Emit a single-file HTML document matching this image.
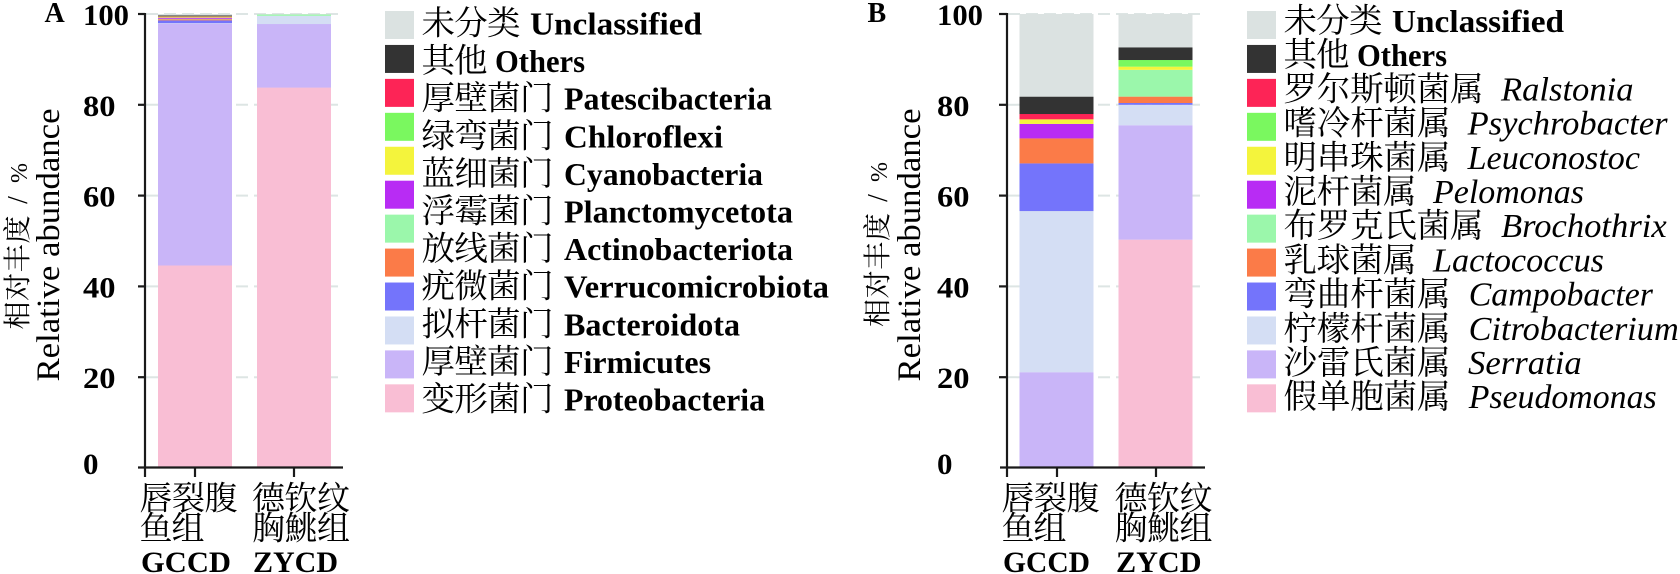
<!DOCTYPE html>
<html>
<head>
<meta charset="utf-8">
<style>
  html,body{margin:0;padding:0;background:#fff;}
  svg{display:block;}
</style>
</head>
<body>
<svg width="1680" height="574" viewBox="0 0 1680 574" xmlns="http://www.w3.org/2000/svg">
<defs></defs>
<rect x="0" y="0" width="1680" height="574" fill="#fff"/>

<!-- ================= PANEL A ================= -->
<text x="44.5" y="22" font-family="Liberation Serif, Times New Roman, Tinos, DejaVu Serif, Noto Serif, serif" font-weight="bold" font-size="28" fill="#000">A</text>

<!-- gridlines A -->
<g stroke="#dde5e4" stroke-width="2" stroke-dasharray="12 6">
  <line x1="146" y1="377.2" x2="342" y2="377.2"/>
  <line x1="146" y1="286.4" x2="342" y2="286.4"/>
  <line x1="146" y1="195.6" x2="342" y2="195.6"/>
  <line x1="146" y1="104.8" x2="342" y2="104.8"/>
  <line x1="146" y1="14" x2="342" y2="14"/>
</g>

<!-- bar A1 -->
<g>
  <rect x="158" y="265.5" width="74" height="202.5" fill="#f9bed4"/>
  <rect x="158" y="23.55" width="74" height="241.95" fill="#c9b5f8"/>
  <rect x="158" y="23.1" width="74" height="0.6" fill="#d4def4"/>
  <rect x="158" y="20.36" width="74" height="2.8" fill="#7474fb"/>
  <rect x="158" y="19.2" width="74" height="1.2" fill="#fb7b48"/>
  <rect x="158" y="18.8" width="74" height="0.5" fill="#9bf7ab"/>
  <rect x="158" y="17.6" width="74" height="1.2" fill="#b82cf4"/>
  <rect x="158" y="16.95" width="74" height="0.7" fill="#f4f43c"/>
  <rect x="158" y="16.5" width="74" height="0.5" fill="#7af85f"/>
  <rect x="158" y="16.05" width="74" height="0.5" fill="#fd2456"/>
  <rect x="158" y="15.4" width="74" height="0.7" fill="#333333"/>
  <rect x="158" y="14" width="74" height="1.4" fill="#dbe2e1"/>
</g>
<!-- bar A2 -->
<g>
  <rect x="257" y="87.55" width="74" height="380.45" fill="#f9bed4"/>
  <rect x="257" y="24" width="74" height="63.6" fill="#c9b5f8"/>
  <rect x="257" y="15.8" width="74" height="8.25" fill="#d4def4"/>
  <rect x="257" y="14.45" width="74" height="1.4" fill="#9bf7ab"/>
  <rect x="257" y="14" width="74" height="0.5" fill="#dbe2e1"/>
</g>

<!-- axes A -->
<g stroke="#1a1a1a" stroke-width="2.2" fill="none">
  <line x1="145" y1="13" x2="145" y2="477"/>
  <line x1="138" y1="467.5" x2="343" y2="467.5"/>
  <line x1="138" y1="14" x2="145" y2="14"/>
  <line x1="138" y1="104.8" x2="145" y2="104.8"/>
  <line x1="138" y1="195.6" x2="145" y2="195.6"/>
  <line x1="138" y1="286.4" x2="145" y2="286.4"/>
  <line x1="138" y1="377.2" x2="145" y2="377.2"/>
  <line x1="195" y1="467.5" x2="195" y2="477"/>
  <line x1="294" y1="467.5" x2="294" y2="477"/>
</g>

<!-- tick labels A -->
<g font-family="Liberation Serif, Times New Roman, Tinos, DejaVu Serif, Noto Serif, serif" font-weight="bold" font-size="30" fill="#000">
<text x="83" y="25" textLength="46" lengthAdjust="spacingAndGlyphs">100</text>
<text x="83" y="116" textLength="32.5" lengthAdjust="spacingAndGlyphs">80</text>
<text x="83" y="206.6" textLength="32.5" lengthAdjust="spacingAndGlyphs">60</text>
<text x="83" y="297.4" textLength="32.5" lengthAdjust="spacingAndGlyphs">40</text>
<text x="83" y="388.2" textLength="32.5" lengthAdjust="spacingAndGlyphs">20</text>
<text x="83" y="474" textLength="15.5" lengthAdjust="spacingAndGlyphs">0</text>
</g>

<!-- y title A -->
<text transform="translate(59,245) rotate(-90)" text-anchor="middle" textLength="273" lengthAdjust="spacingAndGlyphs" font-family="Liberation Serif, Times New Roman, Tinos, DejaVu Serif, Noto Serif, serif" font-size="33" fill="#000">Relative abundance</text>
<g font-family="Liberation Serif, Noto Serif CJK SC, Noto Serif CJK JP, Source Han Serif SC, Noto Sans CJK SC, serif" font-size="28" fill="#000">
<text transform="translate(27,272.5) rotate(-90)" text-anchor="middle" textLength="114" lengthAdjust="spacing">相对丰度</text>
<text transform="translate(27,200) rotate(-90)" text-anchor="middle">/</text>
<text transform="translate(27,173) rotate(-90)" text-anchor="middle" font-size="24">%</text>
</g>

<!-- x labels A -->
<g font-family="Liberation Serif, Noto Serif CJK SC, Noto Serif CJK JP, Source Han Serif SC, Noto Sans CJK SC, serif" font-size="33" fill="#000">
<text x="139.5" y="509.5" textLength="98" lengthAdjust="spacing">唇裂腹</text>
<text x="252" y="509.5" textLength="98" lengthAdjust="spacing">德钦纹</text>
<text x="139.5" y="539.5" textLength="65" lengthAdjust="spacing">鱼组</text>
<text x="252" y="539.5" textLength="98" lengthAdjust="spacing">胸鮡组</text>
</g>
<g font-family="Liberation Serif, Times New Roman, Tinos, DejaVu Serif, Noto Serif, serif" font-weight="bold" font-size="30" fill="#000">
<text x="141" y="572" textLength="90" lengthAdjust="spacingAndGlyphs">GCCD</text>
<text x="253" y="572" textLength="85" lengthAdjust="spacingAndGlyphs">ZYCD</text>
</g>

<!-- legend A squares -->
<g>
  <rect x="385" y="11" width="29" height="28" fill="#dbe2e1"/>
  <rect x="385" y="44.94" width="29" height="28" fill="#333333"/>
  <rect x="385" y="78.88" width="29" height="28" fill="#fd2456"/>
  <rect x="385" y="112.82" width="29" height="28" fill="#7af85f"/>
  <rect x="385" y="146.76" width="29" height="28" fill="#f4f43c"/>
  <rect x="385" y="180.7" width="29" height="28" fill="#b82cf4"/>
  <rect x="385" y="214.64" width="29" height="28" fill="#9bf7ab"/>
  <rect x="385" y="248.58" width="29" height="28" fill="#fb7b48"/>
  <rect x="385" y="282.52" width="29" height="28" fill="#7474fb"/>
  <rect x="385" y="316.46" width="29" height="28" fill="#d4def4"/>
  <rect x="385" y="350.4" width="29" height="28" fill="#c9b5f8"/>
  <rect x="385" y="384.34" width="29" height="28" fill="#f9bed4"/>
</g>
<!-- legend A text -->
<g font-family="Liberation Serif, Noto Serif CJK SC, Noto Serif CJK JP, Source Han Serif SC, Noto Sans CJK SC, serif" font-size="33.5" fill="#000">
  <text x="421.5" y="34.5" textLength="99" lengthAdjust="spacing">未分类</text>
  <text x="421.5" y="72.1" textLength="66" lengthAdjust="spacing">其他</text>
  <text x="421.5" y="109.7" textLength="132" lengthAdjust="spacing">厚壁菌门</text>
  <text x="421.5" y="147.3" textLength="132" lengthAdjust="spacing">绿弯菌门</text>
  <text x="421.5" y="184.9" textLength="132" lengthAdjust="spacing">蓝细菌门</text>
  <text x="421.5" y="222.5" textLength="132" lengthAdjust="spacing">浮霉菌门</text>
  <text x="421.5" y="260.1" textLength="132" lengthAdjust="spacing">放线菌门</text>
  <text x="421.5" y="297.7" textLength="132" lengthAdjust="spacing">疣微菌门</text>
  <text x="421.5" y="335.3" textLength="132" lengthAdjust="spacing">拟杆菌门</text>
  <text x="421.5" y="372.9" textLength="132" lengthAdjust="spacing">厚壁菌门</text>
  <text x="421.5" y="410.5" textLength="132" lengthAdjust="spacing">变形菌门</text>
</g>
<g font-family="Liberation Serif, Times New Roman, Tinos, DejaVu Serif, Noto Serif, serif" font-weight="bold" font-size="32" fill="#000">
  <text x="530" y="34.5" textLength="172" lengthAdjust="spacingAndGlyphs">Unclassified</text>
  <text x="495" y="72.1" textLength="90" lengthAdjust="spacingAndGlyphs">Others</text>
  <text x="564" y="109.7" textLength="208" lengthAdjust="spacingAndGlyphs">Patescibacteria</text>
  <text x="564" y="147.3" textLength="159" lengthAdjust="spacingAndGlyphs">Chloroflexi</text>
  <text x="564" y="184.9" textLength="199" lengthAdjust="spacingAndGlyphs">Cyanobacteria</text>
  <text x="564" y="222.5" textLength="229" lengthAdjust="spacingAndGlyphs">Planctomycetota</text>
  <text x="564" y="260.1" textLength="229" lengthAdjust="spacingAndGlyphs">Actinobacteriota</text>
  <text x="564" y="297.7" textLength="265" lengthAdjust="spacingAndGlyphs">Verrucomicrobiota</text>
  <text x="564" y="335.3" textLength="176" lengthAdjust="spacingAndGlyphs">Bacteroidota</text>
  <text x="564" y="372.9" textLength="147" lengthAdjust="spacingAndGlyphs">Firmicutes</text>
  <text x="564" y="410.5" textLength="201" lengthAdjust="spacingAndGlyphs">Proteobacteria</text>
</g>

<!-- ================= PANEL B ================= -->
<text x="867.5" y="22" font-family="Liberation Serif, Times New Roman, Tinos, DejaVu Serif, Noto Serif, serif" font-weight="bold" font-size="28" fill="#000">B</text>

<!-- gridlines B -->
<g stroke="#dde5e4" stroke-width="2" stroke-dasharray="12 6">
  <line x1="1008" y1="377.2" x2="1204" y2="377.2"/>
  <line x1="1008" y1="286.4" x2="1204" y2="286.4"/>
  <line x1="1008" y1="195.6" x2="1204" y2="195.6"/>
  <line x1="1008" y1="104.8" x2="1204" y2="104.8"/>
  <line x1="1008" y1="14" x2="1204" y2="14"/>
</g>

<!-- bar B1 -->
<g>
  <rect x="1019.5" y="466.64" width="74" height="1.36" fill="#f9bed4"/>
  <rect x="1019.5" y="372.2" width="74" height="94.5" fill="#c9b5f8"/>
  <rect x="1019.5" y="211.04" width="74" height="161.2" fill="#d4def4"/>
  <rect x="1019.5" y="163.37" width="74" height="47.7" fill="#7474fb"/>
  <rect x="1019.5" y="138.4" width="74" height="25" fill="#fb7b48"/>
  <rect x="1019.5" y="123.87" width="74" height="14.55" fill="#b82cf4"/>
  <rect x="1019.5" y="119.33" width="74" height="4.56" fill="#f4f43c"/>
  <rect x="1019.5" y="114" width="74" height="5.35" fill="#fd2456"/>
  <rect x="1019.5" y="96.63" width="74" height="17.4" fill="#333333"/>
  <rect x="1019.5" y="14" width="74" height="82.65" fill="#dbe2e1"/>
</g>
<!-- bar B2 -->
<g>
  <rect x="1118.5" y="239.64" width="74" height="228.36" fill="#f9bed4"/>
  <rect x="1118.5" y="125.23" width="74" height="114.43" fill="#c9b5f8"/>
  <rect x="1118.5" y="104.8" width="74" height="20.45" fill="#d4def4"/>
  <rect x="1118.5" y="102.98" width="74" height="1.84" fill="#7474fb"/>
  <rect x="1118.5" y="96.63" width="74" height="6.37" fill="#fb7b48"/>
  <rect x="1118.5" y="69.84" width="74" height="26.8" fill="#9bf7ab"/>
  <rect x="1118.5" y="66.66" width="74" height="3.2" fill="#f4f43c"/>
  <rect x="1118.5" y="60" width="74" height="6.68" fill="#7af85f"/>
  <rect x="1118.5" y="47.32" width="74" height="12.7" fill="#333333"/>
  <rect x="1118.5" y="14" width="74" height="33.34" fill="#dbe2e1"/>
</g>

<!-- axes B -->
<g stroke="#1a1a1a" stroke-width="2.2" fill="none">
  <line x1="1007" y1="13" x2="1007" y2="477"/>
  <line x1="1000" y1="467.5" x2="1205" y2="467.5"/>
  <line x1="999" y1="14" x2="1007" y2="14"/>
  <line x1="999" y1="104.8" x2="1007" y2="104.8"/>
  <line x1="999" y1="195.6" x2="1007" y2="195.6"/>
  <line x1="999" y1="286.4" x2="1007" y2="286.4"/>
  <line x1="999" y1="377.2" x2="1007" y2="377.2"/>
  <line x1="1057" y1="467.5" x2="1057" y2="477"/>
  <line x1="1156" y1="467.5" x2="1156" y2="477"/>
</g>

<!-- tick labels B -->
<g font-family="Liberation Serif, Times New Roman, Tinos, DejaVu Serif, Noto Serif, serif" font-weight="bold" font-size="30" fill="#000">
<text x="937" y="25" textLength="46" lengthAdjust="spacingAndGlyphs">100</text>
<text x="937" y="116" textLength="32.5" lengthAdjust="spacingAndGlyphs">80</text>
<text x="937" y="206.6" textLength="32.5" lengthAdjust="spacingAndGlyphs">60</text>
<text x="937" y="297.4" textLength="32.5" lengthAdjust="spacingAndGlyphs">40</text>
<text x="937" y="388.2" textLength="32.5" lengthAdjust="spacingAndGlyphs">20</text>
<text x="937" y="474" textLength="15.5" lengthAdjust="spacingAndGlyphs">0</text>
</g>

<!-- y title B -->
<text transform="translate(920,245) rotate(-90)" text-anchor="middle" textLength="273" lengthAdjust="spacingAndGlyphs" font-family="Liberation Serif, Times New Roman, Tinos, DejaVu Serif, Noto Serif, serif" font-size="33" fill="#000">Relative abundance</text>
<g font-family="Liberation Serif, Noto Serif CJK SC, Noto Serif CJK JP, Source Han Serif SC, Noto Sans CJK SC, serif" font-size="28" fill="#000">
<text transform="translate(887,270) rotate(-90)" text-anchor="middle" textLength="114" lengthAdjust="spacing">相对丰度</text>
<text transform="translate(887,198) rotate(-90)" text-anchor="middle">/</text>
<text transform="translate(887,172) rotate(-90)" text-anchor="middle" font-size="24">%</text>
</g>

<!-- x labels B -->
<g font-family="Liberation Serif, Noto Serif CJK SC, Noto Serif CJK JP, Source Han Serif SC, Noto Sans CJK SC, serif" font-size="33" fill="#000">
<text x="1001.5" y="509.5" textLength="98" lengthAdjust="spacing">唇裂腹</text>
<text x="1114.5" y="509.5" textLength="98" lengthAdjust="spacing">德钦纹</text>
<text x="1001.5" y="539.5" textLength="65" lengthAdjust="spacing">鱼组</text>
<text x="1114.5" y="539.5" textLength="98" lengthAdjust="spacing">胸鮡组</text>
</g>
<g font-family="Liberation Serif, Times New Roman, Tinos, DejaVu Serif, Noto Serif, serif" font-weight="bold" font-size="30" fill="#000">
<text x="1003" y="572" textLength="87" lengthAdjust="spacingAndGlyphs">GCCD</text>
<text x="1116" y="572" textLength="85.5" lengthAdjust="spacingAndGlyphs">ZYCD</text>
</g>

<!-- legend B squares -->
<g>
  <rect x="1247" y="11" width="29" height="28" fill="#dbe2e1"/>
  <rect x="1247" y="44.94" width="29" height="28" fill="#333333"/>
  <rect x="1247" y="78.88" width="29" height="28" fill="#fd2456"/>
  <rect x="1247" y="112.82" width="29" height="28" fill="#7af85f"/>
  <rect x="1247" y="146.76" width="29" height="28" fill="#f4f43c"/>
  <rect x="1247" y="180.7" width="29" height="28" fill="#b82cf4"/>
  <rect x="1247" y="214.64" width="29" height="28" fill="#9bf7ab"/>
  <rect x="1247" y="248.58" width="29" height="28" fill="#fb7b48"/>
  <rect x="1247" y="282.52" width="29" height="28" fill="#7474fb"/>
  <rect x="1247" y="316.46" width="29" height="28" fill="#d4def4"/>
  <rect x="1247" y="350.4" width="29" height="28" fill="#c9b5f8"/>
  <rect x="1247" y="384.34" width="29" height="28" fill="#f9bed4"/>
</g>
<!-- legend B text -->
<g font-family="Liberation Serif, Noto Serif CJK SC, Noto Serif CJK JP, Source Han Serif SC, Noto Sans CJK SC, serif" font-size="33.5" fill="#000">
  <text x="1283.5" y="32" textLength="99" lengthAdjust="spacing">未分类</text>
  <text x="1283.5" y="66.2" textLength="66" lengthAdjust="spacing">其他</text>
  <text x="1283.5" y="100.4" textLength="200" lengthAdjust="spacing">罗尔斯顿菌属</text>
  <text x="1283.5" y="134.6" textLength="167" lengthAdjust="spacing">嗜冷杆菌属</text>
  <text x="1283.5" y="168.8" textLength="167" lengthAdjust="spacing">明串珠菌属</text>
  <text x="1283.5" y="203" textLength="133" lengthAdjust="spacing">泥杆菌属</text>
  <text x="1283.5" y="237.2" textLength="200" lengthAdjust="spacing">布罗克氏菌属</text>
  <text x="1283.5" y="271.4" textLength="133" lengthAdjust="spacing">乳球菌属</text>
  <text x="1283.5" y="305.6" textLength="167" lengthAdjust="spacing">弯曲杆菌属</text>
  <text x="1283.5" y="339.8" textLength="167" lengthAdjust="spacing">柠檬杆菌属</text>
  <text x="1283.5" y="374" textLength="167" lengthAdjust="spacing">沙雷氏菌属</text>
  <text x="1283.5" y="408.2" textLength="167" lengthAdjust="spacing">假单胞菌属</text>
</g>
<g font-family="Liberation Serif, Times New Roman, Tinos, DejaVu Serif, Noto Serif, serif" font-weight="bold" font-size="32" fill="#000">
  <text x="1392" y="32" textLength="172" lengthAdjust="spacingAndGlyphs">Unclassified</text>
  <text x="1357" y="66.2" textLength="90" lengthAdjust="spacingAndGlyphs">Others</text>
</g>
<g font-family="Liberation Serif, Times New Roman, Tinos, DejaVu Serif, Noto Serif, serif" font-style="italic" font-size="34" fill="#000">
  <text x="1501" y="100.4" textLength="132.5" lengthAdjust="spacingAndGlyphs">Ralstonia</text>
  <text x="1467.6" y="134.6" textLength="200" lengthAdjust="spacingAndGlyphs">Psychrobacter</text>
  <text x="1467.6" y="168.8" textLength="172.4" lengthAdjust="spacingAndGlyphs">Leuconostoc</text>
  <text x="1433" y="203" textLength="151" lengthAdjust="spacingAndGlyphs">Pelomonas</text>
  <text x="1501" y="237.2" textLength="165.7" lengthAdjust="spacingAndGlyphs">Brochothrix</text>
  <text x="1433" y="271.4" textLength="171" lengthAdjust="spacingAndGlyphs">Lactococcus</text>
  <text x="1468.7" y="305.6" textLength="184.3" lengthAdjust="spacingAndGlyphs">Campobacter</text>
  <text x="1468.7" y="339.8" textLength="210" lengthAdjust="spacingAndGlyphs">Citrobacterium</text>
  <text x="1468" y="374" textLength="113.7" lengthAdjust="spacingAndGlyphs">Serratia</text>
  <text x="1468.7" y="408.2" textLength="188" lengthAdjust="spacingAndGlyphs">Pseudomonas</text>
</g>
</svg>
</body>
</html>
